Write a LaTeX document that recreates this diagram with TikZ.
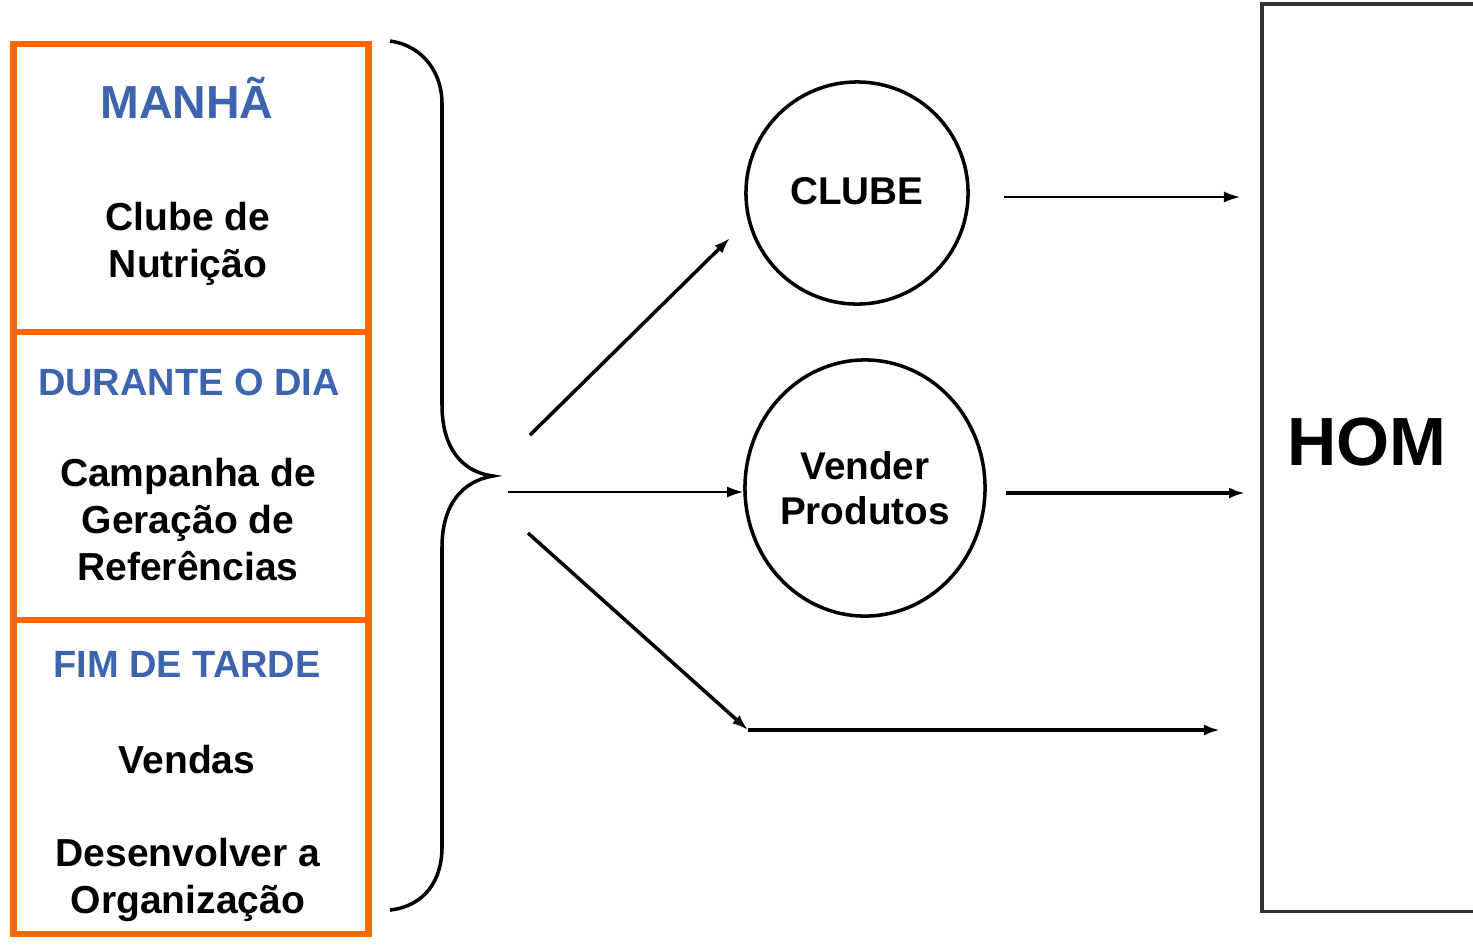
\documentclass[tikz,border=0pt]{standalone}
\usepackage{fontspec}
\setmainfont{Liberation Sans}
\usepackage{tikz}
\usetikzlibrary{positioning,arrows.meta,shapes.geometric}
\usepackage{xcolor}

\definecolor{slotorange}{RGB}{255,102,0}
\definecolor{slotblue}{RGB}{62,100,174}

\tikzset{
  slotbox/.style={draw=slotorange, line width=1.9pt, minimum width=3.55cm, inner sep=0pt},
  slothead/.style={text=slotblue, font=\bfseries\fontsize{10.8}{13}\selectfont, anchor=base},
  slottext/.style={font=\bfseries\fontsize{11.1}{13.3}\selectfont, align=center, anchor=base},
  actcircle/.style={draw, ellipse, line width=1pt, inner sep=0pt, align=center,
    font=\bfseries\fontsize{11}{12.6}\selectfont},
  thinarrow/.style={-{Latex[length=1.6mm,width=1.1mm]}, line width=0.5pt},
  thickarrow/.style={-{Latex[length=1.6mm,width=1.1mm]}, line width=1pt},
}

\begin{document}
\begin{tikzpicture}[x=0.01cm, y=-0.01cm]
  \clip (0,0) rectangle (1473,944);

  % Period boxes
  \node[slotbox, minimum height=2.88cm] (morning) at (191,188) {};
  \node[slotbox, minimum height=2.88cm] (day) at (191,476) {};
  \node[slotbox, minimum height=3.14cm] (evening) at (191,777) {};

  % Headings and tasks (base = last line)
  \node[slothead, font=\bfseries\fontsize{13.2}{15}\selectfont] (morninghead) at (187,118) {MANHÃ};
  \node[slottext] (morningtask) at (188,277) {Clube de\\Nutrição};
  \node[slothead] (dayhead) at (189,395) {DURANTE O DIA};
  \node[slottext] (daytask) at (188,580) {Campanha de\\Geração de\\Referências};
  \node[slothead] (eveninghead) at (187,677) {FIM DE TARDE};
  \node[slottext] (eveningsales) at (187,773) {Vendas};
  \node[slottext] (eveningorg) at (188,913) {Desenvolver a\\Organização};

  % Brace
  \coordinate (bracetip) at (493,476);
  \draw[line width=1pt] (390,41) .. controls (425,46) and (442,75) .. (442,103)
    -- (442,405) .. controls (442,448) and (462,472) .. (bracetip)
    .. controls (462,481) and (442,505) .. (442,547)
    -- (442,847) .. controls (442,880) and (425,906) .. (390,910);

  % Activities
  \node[actcircle, minimum size=2.22cm] (clube) at (857,193) {\raisebox{0.04cm}{CLUBE}};
  \node[actcircle, minimum width=2.38cm, minimum height=2.56cm] (vender) at (865,488) {Vender\\Produtos};

  % HOM box
  \node[draw=black!80, line width=1.1pt, anchor=north west, minimum width=2.4cm,
    minimum height=9.07cm] (hom) at (1260,2) {};
  \node[font=\bfseries\fontsize{19.4}{22}\selectfont] (homlabel) at (1367,442) {HOM};

  % Fan of arrows
  \coordinate (fanup) at (530,435);
  \coordinate (clubein) at (730,238);
  \coordinate (fanmid) at (508,492);
  \coordinate (fanlow) at (528,533);
  \coordinate (turn) at (748,730);

  \draw[thickarrow] (fanup) -- (clubein);
  \draw[thinarrow] (fanmid) -- (fanmid -| vender.west);
  \draw[thickarrow] (fanlow) -- (turn);
  \draw[thickarrow, shorten >=0.4cm] (turn) -- (turn -| hom.west);

  % Outputs into HOM
  \draw[thinarrow, shorten <=0.34cm, shorten >=0.2cm] ([yshift=-0.04cm]clube.east) -- ([yshift=-0.04cm]clube.east -| hom.west);
  \draw[thickarrow, shorten <=0.19cm, shorten >=0.15cm] ([yshift=-0.05cm]vender.east) -- ([yshift=-0.05cm]vender.east -| hom.west);
\end{tikzpicture}
\end{document}
